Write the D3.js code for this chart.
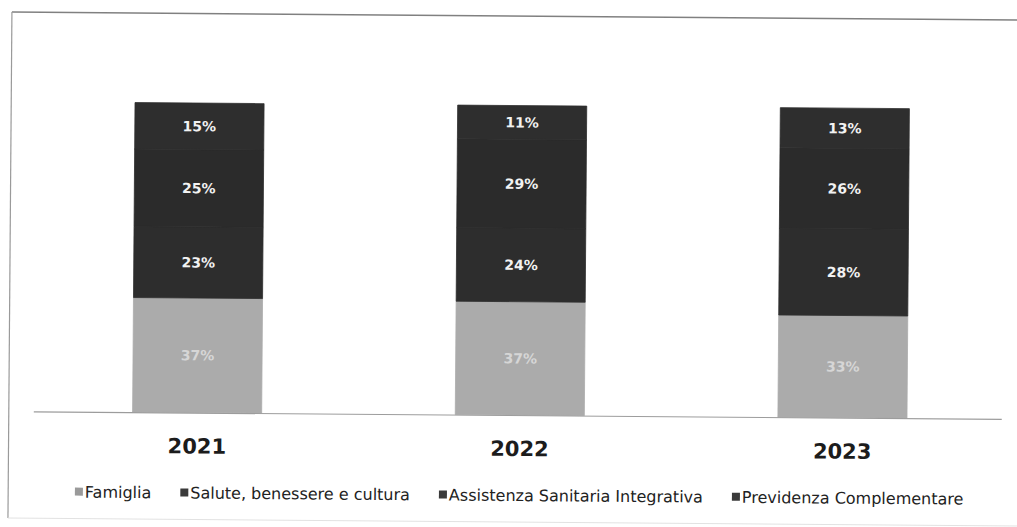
<!DOCTYPE html>
<html>
<head>
<meta charset="utf-8">
<script src="https://cdn.jsdelivr.net/npm/d3@7"></script>
<style>
  html, body { margin: 0; padding: 0; background: #ffffff; }
  svg { display: block; }
</style>
</head>
<body>
<svg id="chart" width="1017" height="527"></svg>
<script>
// Years on the x axis
const years = ["2021", "2022", "2023"];

// Share of each welfare area per year (%), stacked bottom to top
const famiglia   = [37, 37, 33];
const salute     = [23, 24, 28];
const assistenza = [25, 29, 26];
const previdenza = [15, 11, 13];

const seriesNames = [
  "Famiglia",
  "Salute, benessere e cultura",
  "Assistenza Sanitaria Integrativa",
  "Previdenza Complementare"
];
const seriesKeys = ["famiglia", "salute", "assistenza", "previdenza"];

const rows = years.map((y, i) => ({
  year: y,
  famiglia: famiglia[i],
  salute: salute[i],
  assistenza: assistenza[i],
  previdenza: previdenza[i]
}));

const svg = d3.select("#chart");

// Whole sheet sits slightly tilted
const root = svg.append("g").attr("transform", "rotate(0.45 508 260)");

// Sheet frame
root.append("line").attr("x1", 10).attr("x2", 1030).attr("y1", 16).attr("y2", 16)
  .attr("stroke", "#808080").attr("stroke-width", 1.5);
root.append("line").attr("x1", 10).attr("x2", 10).attr("y1", 16).attr("y2", 522)
  .attr("stroke", "#9a9a9a").attr("stroke-width", 1.2);
root.append("line").attr("x1", 10).attr("x2", 1030).attr("y1", 522).attr("y2", 522)
  .attr("stroke", "#e2e2e2").attr("stroke-width", 1);

const colors = d3.scaleOrdinal()
  .domain(seriesKeys)
  .range(["#ababab", "#2d2d2d", "#2b2b2b", "#2e2e2e"]);

const labelColors = d3.scaleOrdinal()
  .domain(seriesKeys)
  .range(["#d6d6d6", "#f2f2f2", "#f2f2f2", "#f2f2f2"]);

const x = d3.scaleBand()
  .domain(years)
  .range([37, 1005])
  .paddingInner(0.6)
  .paddingOuter(0.3);

const y = d3.scaleLinear().domain([0, 1]).range([415, 105.5]);

// 100% stacked layout
const stack = d3.stack().keys(seriesKeys).offset(d3.stackOffsetExpand);
const layers = stack(rows);

const layerG = root.selectAll("g.layer")
  .data(layers)
  .join("g")
  .attr("class", "layer")
  .attr("fill", d => colors(d.key))
  .attr("stroke", d => colors(d.key))
  .attr("stroke-width", 0.8);

layerG.selectAll("rect")
  .data(d => d)
  .join("rect")
  .attr("x", d => x(d.data.year))
  .attr("width", x.bandwidth())
  .attr("y", d => y(d[1]))
  .attr("height", d => y(d[0]) - y(d[1]));

// Value labels
layers.forEach(layer => {
  root.append("g").selectAll("text")
    .data(layer)
    .join("text")
    .attr("x", d => x(d.data.year) + x.bandwidth() / 2)
    .attr("y", d => (y(d[0]) + y(d[1])) / 2)
    .attr("dy", "0.36em")
    .attr("text-anchor", "middle")
    .attr("font-family", "DejaVu Sans, Verdana, sans-serif")
    .attr("font-weight", "bold")
    .attr("font-size", 14)
    .attr("fill", labelColors(layer.key))
    .text(d => d.data[layer.key] + "%");
});

// Baseline
root.append("line")
  .attr("x1", 35).attr("x2", 1003)
  .attr("y1", 415.5).attr("y2", 415.5)
  .attr("stroke", "#9c9c9c").attr("stroke-width", 1.2);

// Year axis
const xAxis = root.append("g")
  .attr("transform", "translate(0,415)")
  .call(d3.axisBottom(x).tickSize(0).tickPadding(0));
xAxis.select(".domain").remove();
xAxis.selectAll("text")
  .attr("y", 41)
  .attr("dy", 0)
  .attr("font-family", "DejaVu Sans, Verdana, sans-serif")
  .attr("font-weight", "bold")
  .attr("font-size", 21)
  .attr("fill", "#1c1c1c");

// Legend
const legend = root.append("g").attr("transform", "translate(0,501)");
const items = legend.selectAll("g.item")
  .data(seriesKeys)
  .join("g")
  .attr("class", "item");
items.append("rect")
  .attr("width", 8).attr("height", 8)
  .attr("y", -10)
  .attr("fill", (d, i) => i === 0 ? "#9a9a9a" : "#3a3a3a");
items.append("text")
  .attr("x", 10)
  .attr("font-family", "DejaVu Sans, Tahoma, sans-serif")
  .attr("font-size", 16)
  .attr("fill", "#222222")
  .text((d, i) => seriesNames[i]);

// Lay items out in a row centred under the plot
const gap = 29;
let widths = [];
items.each(function () { widths.push(this.getBBox().width); });
const total = d3.sum(widths) + gap * (widths.length - 1);
let cx = 521 - total / 2;
items.attr("transform", (d, i) => {
  const t = `translate(${cx},0)`;
  cx += widths[i] + gap;
  return t;
});
</script>
</body>
</html>
